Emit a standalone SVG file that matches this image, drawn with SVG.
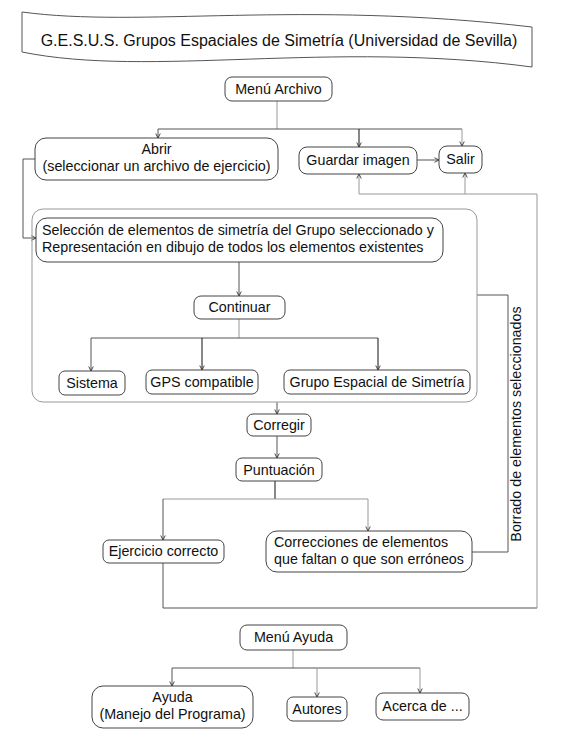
<svg xmlns="http://www.w3.org/2000/svg" width="575" height="729" viewBox="0 0 575 729">
<style>
.box{fill:#fff;stroke:#444;stroke-width:1}
.outer{fill:none;stroke:#999;stroke-width:1}
.t{font-family:"Liberation Sans",Arial,sans-serif;font-size:14.3px;fill:#111}
.c{text-anchor:middle}
.ln{fill:none;stroke:#555;stroke-width:1}
.lt{fill:none;stroke:#999;stroke-width:1}
.dk{fill:none;stroke:#111;stroke-width:1}
</style>
<defs>
<marker id="ah" viewBox="0 0 8 8" refX="7" refY="4" markerWidth="6" markerHeight="6" markerUnits="userSpaceOnUse" orient="auto">
<path d="M1,1 L7,4 L1,7" fill="none" stroke="#333" stroke-width="1.2"/>
</marker>
</defs>
<rect width="575" height="729" fill="#fff"/>
<g id="banner">
<path d="M22,12 C140,28 300,0 532,27 L532,67 C330,40 150,78 22,52 Z" fill="#fff" stroke="#555" stroke-width="1"/>
<text class="t c" x="279" y="46" style="font-size:16px">G.E.S.U.S. Grupos Espaciales de Simetría (Universidad de Sevilla)</text>
</g>
<g id="connectors">
<path class="lt" d="M277,101 V129"/>
<path class="ln" d="M158,129 H462"/>
<path class="ln" d="M158,129 V138" marker-end="url(#ah)"/>
<path class="dk" d="M359,129 V147" marker-end="url(#ah)"/>
<path class="lt" d="M462,129 V146" marker-end="url(#ah)"/>
<path class="ln" d="M35,159 H23 V238 H36" marker-end="url(#ah)"/>
<path class="ln" d="M417,160 H439" marker-end="url(#ah)"/>
<path class="ln" d="M239,262 V296" marker-end="url(#ah)"/>
<path class="lt" d="M239,319 V338"/>
<path class="ln" d="M91,338 H378"/>
<path class="ln" d="M91,338 V371" marker-end="url(#ah)"/>
<path class="dk" d="M202,338 V370" marker-end="url(#ah)"/>
<path class="dk" d="M378,338 V370" marker-end="url(#ah)"/>
<path class="ln" d="M277,402 V414" marker-end="url(#ah)"/>
<path class="ln" d="M277,436 V458" marker-end="url(#ah)"/>
<path class="dk" d="M275,481 V499"/>
<path class="lt" d="M163,499 H368"/>
<path class="ln" d="M163,499 V540" marker-end="url(#ah)"/>
<path class="lt" d="M368,499 V531" marker-end="url(#ah)"/>
<path class="ln" d="M163,563 V608 H537"/>
<path class="lt" d="M537,608 V194 H359 V174" marker-end="url(#ah)"/>
<path class="lt" d="M465,194 V173" marker-end="url(#ah)"/>
<path class="ln" d="M472,552 H508 V295 H477"/>
<path class="lt" d="M293,650 V668"/>
<path class="ln" d="M172,668 H420"/>
<path class="ln" d="M172,668 V686" marker-end="url(#ah)"/>
<path class="lt" d="M317,668 V697" marker-end="url(#ah)"/>
<path class="lt" d="M420,668 V693" marker-end="url(#ah)"/>
<text class="t c" transform="translate(521,424) rotate(-90)">Borrado de elementos seleccionados</text>
</g>
<g id="menu-archivo">
<rect class="box" x="225" y="77" width="107" height="24" rx="7"/>
<text class="t c" x="278.5" y="94">Menú Archivo</text>
</g>
<g id="abrir">
<rect class="box" x="35" y="138" width="243" height="42" rx="11"/>
<text class="t c" x="156.5" y="154">Abrir</text>
<text class="t c" x="156.5" y="171">(seleccionar un archivo de ejercicio)</text>
</g>
<g id="guardar">
<rect class="box" x="299" y="147" width="118" height="27" rx="8"/>
<text class="t c" x="358" y="165">Guardar imagen</text>
</g>
<g id="salir">
<rect class="box" x="439" y="146" width="43" height="27" rx="8"/>
<text class="t c" x="460.5" y="164">Salir</text>
</g>
<g id="area">
<rect class="outer" x="32" y="209" width="445" height="193" rx="11"/>
</g>
<g id="seleccion">
<rect class="box" x="36" y="218" width="407" height="44" rx="11"/>
<text class="t" x="42" y="235">Selección de elementos de simetría del Grupo seleccionado y</text>
<text class="t" x="42" y="252">Representación en dibujo de todos los elementos existentes</text>
</g>
<g id="continuar">
<rect class="box" x="194" y="296" width="91" height="23" rx="7"/>
<text class="t c" x="239.5" y="312">Continuar</text>
</g>
<g id="sistema">
<rect class="box" x="59" y="371" width="66" height="24" rx="6"/>
<text class="t c" x="92" y="388">Sistema</text>
</g>
<g id="gps">
<rect class="box" x="146" y="370" width="112" height="24" rx="6"/>
<text class="t c" x="202" y="387">GPS compatible</text>
</g>
<g id="grupo">
<rect class="box" x="284" y="370" width="186" height="24" rx="6"/>
<text class="t c" x="377" y="387">Grupo Espacial de Simetría</text>
</g>
<g id="corregir">
<rect class="box" x="247" y="414" width="64" height="22" rx="6"/>
<text class="t c" x="279" y="430">Corregir</text>
</g>
<g id="puntuacion">
<rect class="box" x="236" y="458" width="86" height="23" rx="6"/>
<text class="t c" x="279" y="475">Puntuación</text>
</g>
<g id="ejercicio">
<rect class="box" x="103" y="540" width="121" height="23" rx="6"/>
<text class="t c" x="163.5" y="556">Ejercicio correcto</text>
</g>
<g id="correcciones">
<rect class="box" x="266" y="531" width="206" height="41" rx="11"/>
<text class="t" x="274" y="547">Correcciones de elementos</text>
<text class="t" x="274" y="564">que faltan o que son erróneos</text>
</g>
<g id="menu-ayuda">
<rect class="box" x="240" y="625" width="107" height="25" rx="7"/>
<text class="t c" x="293.5" y="642">Menú Ayuda</text>
</g>
<g id="ayuda">
<rect class="box" x="92" y="686" width="161" height="42" rx="11"/>
<text class="t c" x="172.5" y="702">Ayuda</text>
<text class="t c" x="172.5" y="719">(Manejo del Programa)</text>
</g>
<g id="autores">
<rect class="box" x="287" y="697" width="60" height="24" rx="6"/>
<text class="t c" x="317" y="714">Autores</text>
</g>
<g id="acerca">
<rect class="box" x="376" y="693" width="93" height="27" rx="7"/>
<text class="t c" x="422.5" y="711">Acerca de ...</text>
</g>
</svg>
